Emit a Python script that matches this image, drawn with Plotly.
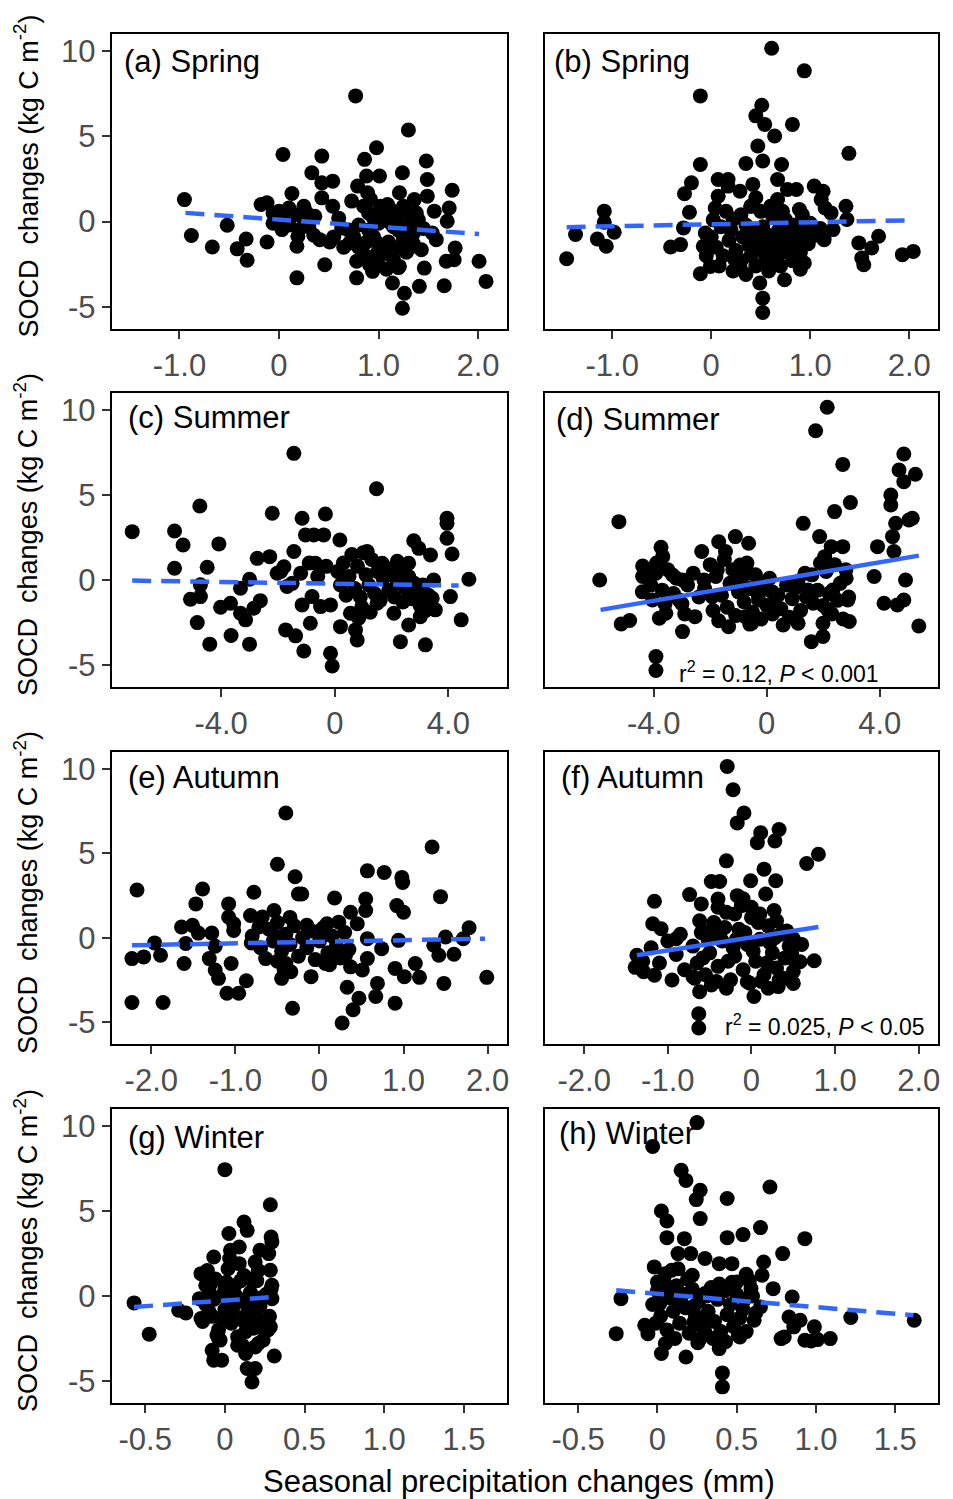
import plotly.graph_objects as go

W, H = 953, 1499

# ---------------- data ----------------
# panel (a) Spring, left column
pts_a = [(-0.95,1.29),(-0.88,-0.82),(-0.67,-1.49),(-0.52,-0.22),(-0.42,-1.6),(-0.33,-1.02),(-0.32,-2.27),
 (-0.18,1.0),(-0.12,1.1),(-0.12,-1.2),(0.04,3.94),(0.13,1.65),(-0.06,0.5),(-0.06,-0.1),(0.03,-0.47),
 (0.18,-3.3),(0.18,-1.45),(0.19,-0.86),(0.25,0.9),(0.33,2.86),(0.36,0.31),(0.41,-1.06),(0.43,3.84),
 (0.43,2.27),(0.43,1.39),(0.46,-2.53),(0.51,-1.2),(0.54,2.37),(0.54,0.9),(0.63,-0.37),(0.71,-1.25),
 (0.73,1.2),(0.77,7.37),(0.78,-3.3),(0.78,-2.33),(0.79,2.08),(0.86,3.65),(0.88,2.67),(0.89,1.69),
 (0.91,-2.53),(0.94,-2.92),(0.98,4.33),(1.01,2.67),(1.09,1.0),(1.14,-3.6),(1.21,-2.63),(1.21,1.69),
 (1.24,2.86),(1.24,-5.08),(1.26,-4.2),(1.30,5.37),(1.34,-1.45),(1.36,1.29),(1.38,0.5),(1.41,-3.8),
 (1.43,-1.65),(1.46,-2.73),(1.48,3.55),(1.49,2.47),(1.49,1.49),(1.54,-0.67),(1.56,0.61),(1.58,-1.06),
 (1.66,-3.76),(1.68,-2.33),(1.69,0.02),(1.71,0.8),(1.74,1.84),(1.76,-2.24),(1.77,-1.55),(2.01,-2.33),
 (2.08,-3.51),
 (0.85,0.9),(0.9,0.5),(0.95,0.2),(1.0,-0.1),(1.05,0.4),(1.1,0.0),(1.15,-0.3),(0.9,-0.5),(0.95,-0.9),
 (1.0,-1.3),(1.05,-1.6),(1.1,-1.9),(1.15,-2.2),(1.2,-1.5),(1.25,-1.0),(1.2,-0.5),(1.3,-0.2),(1.3,0.5),
 (1.25,0.9),(1.35,-0.7),(1.35,-1.3),(0.8,-0.2),(0.75,-0.9),(0.8,-1.5),(0.85,-1.9),(1.0,-2.5),(1.08,-2.8),
 (0.92,1.3),(1.02,0.9),(1.12,0.7),(1.18,0.2),(0.98,-1.9),(1.1,-1.2),(1.2,-2.7),(0.88,-1.2),(1.28,-1.8),
 (1.4,0.1),(1.45,-0.4),(0.7,-0.5),(0.6,0.2),(0.55,-0.9),(0.65,-1.5),
 (0.0,0.6),(0.05,0.2),(0.1,-0.2),(0.15,0.4),(0.2,-0.5),(0.25,0.1),(0.3,-0.3),(0.35,-0.8),(0.1,0.8),(0.28,0.5)]
fit_a_x = [-0.94, 2.01]
fit_a_y = [0.51, -0.73]

# panel (b) Spring, right column
pts_b = [(-1.46,-2.18),(-1.37,-0.76),(-1.15,-1.02),(-1.08,0.61),(-1.08,-0.04),(-1.06,-1.45),(-0.98,-0.63),
 (-0.41,-1.49),(-0.31,-1.35),(-0.28,-0.37),(-0.27,1.63),(-0.22,0.55),(-0.20,2.27),(-0.11,7.37),(-0.11,3.35),
 (-0.11,-3.06),(-0.08,-1.45),(-0.06,-0.67),(-0.01,-2.63),(0.04,0.8),(0.07,2.47),(0.07,1.49),(0.17,2.47),
 (0.17,2.08),(0.22,0.12),(0.24,-2.24),(0.29,-2.63),(0.29,1.78),(0.35,3.41),(0.40,0.9),(0.42,2.18),
 (0.47,4.43),(0.51,6.82),(0.45,6.2),(0.49,-3.6),(0.52,-4.49),(0.52,-5.33),(0.54,5.7),(0.52,3.55),
 (0.61,10.16),(0.64,5.02),(0.67,2.47),(0.71,3.35),(0.67,1.29),(0.65,-2.53),(0.74,-3.41),(0.77,1.88),
 (0.82,5.7),(0.86,1.88),(0.89,0.71),(0.94,8.84),(0.94,-2.43),(1.04,2.08),(1.11,1.29),(1.13,1.78),
 (1.21,0.51),(1.23,-0.47),(1.14,-1.06),(1.36,0.9),(1.39,4.0),(1.37,0.12),(1.49,-1.25),(1.52,-2.14),
 (1.54,-2.53),(1.62,-1.55),(1.69,-0.86),(1.93,-1.94),(2.04,-1.75),
 (0.0,-0.9),(0.05,-1.5),(0.1,-0.3),(0.12,-2.0),(0.18,-1.1),(0.2,-0.5),(0.25,-1.7),(0.3,-2.3),(0.32,-0.9),
 (0.35,-0.2),(0.38,-1.4),(0.4,-2.0),(0.42,-0.6),(0.45,-2.6),(0.48,-1.1),(0.5,-1.7),(0.52,-0.3),(0.55,-2.2),
 (0.58,-0.8),(0.6,-1.4),(0.62,0.3),(0.65,-2.0),(0.68,-0.5),(0.7,-1.1),(0.72,-1.8),(0.75,0.1),(0.78,-0.7),
 (0.8,-1.5),(0.82,-2.3),(0.85,-0.2),(0.88,-1.0),(0.9,-1.8),(0.92,0.4),(0.95,-0.6),(0.98,-1.3),(1.0,-0.1),
 (1.05,-0.8),(1.1,-0.4),(1.15,0.8),(0.6,0.9),(0.5,0.6),(0.4,0.9),(0.3,0.4),(0.15,0.6),(0.08,-2.6),
 (0.22,-2.9),(0.7,-2.6),(0.58,-2.9),(0.45,1.4),(0.72,0.6),(0.35,-3.1),(0.9,-2.8),(0.02,0.1),(-0.05,-2.0)]
fit_b_x = [-1.46, 2.04]
fit_b_y = [-0.33, 0.08]

# panel (c) Summer, left column
pts_c = [(-7.13,2.84),(-5.64,2.88),(-5.34,2.06),(-5.64,0.69),(-4.75,4.35),(-4.49,0.75),(-5.08,-1.14),
 (-4.73,-0.98),(-4.73,-0.29),(-4.84,-2.51),(-4.40,-3.78),(-4.08,2.12),(-4.02,-1.61),(-3.67,-1.37),
 (-3.65,-3.27),(-3.32,-1.96),(-3.14,-2.35),(-3.32,-0.49),(-3.0,0.04),(-3.0,-3.78),(-2.85,-1.67),
 (-2.62,-1.22),(-2.73,1.27),(-2.29,1.37),(-2.20,3.92),(-2.03,0.39),(-1.79,0.78),(-1.73,-2.94),
 (-1.68,-0.39),(-1.44,7.45),(-1.44,1.67),(-1.38,-3.29),(-1.15,3.63),(-1.15,-1.47),(-1.09,-4.18),
 (-1.03,2.65),(-0.86,-2.55),(-0.80,-0.98),(-0.74,2.65),(-0.68,0.98),(-0.50,-1.57),(-0.39,2.65),
 (-0.33,3.88),(-0.15,-1.47),(-0.15,-4.31),(-0.09,-5.06),(0.18,2.35),(0.20,-2.75),(0.55,-1.96),
 (0.73,-2.94),(0.79,-3.53),(0.84,-2.25),(1.14,1.67),(1.47,5.37),(1.49,-1.37),(1.67,0.98),(2.08,-1.96),
 (2.20,0.59),(2.31,-3.63),(2.60,0.98),(2.78,2.31),(2.96,1.86),(2.60,-2.65),(3.01,-2.16),(3.19,-3.82),
 (3.37,1.47),(3.48,0.0),(3.43,-1.08),(3.54,-1.76),(3.95,3.63),(3.95,3.33),(3.95,2.45),(4.13,1.53),
 (4.07,-0.98),(4.45,-2.35),(4.72,0.04),
 (0.1,0.5),(0.3,1.0),(0.5,0.2),(0.6,1.5),(0.7,-0.5),(0.8,0.8),(0.9,-1.0),(1.0,1.6),(1.1,0.3),(1.2,-0.3),
 (1.3,1.2),(1.4,-0.8),(1.5,0.5),(1.6,-1.2),(1.7,0.1),(1.8,0.7),(1.9,-0.6),(2.0,0.3),(2.1,-1.0),(2.2,-0.2),
 (2.3,0.6),(2.4,-1.3),(2.5,-0.5),(2.6,0.2),(2.7,-1.1),(2.8,-0.2),(2.9,-0.8),(3.0,-1.5),(3.1,-0.3),
 (3.2,-1.8),(3.3,-0.9),(0.4,-0.9),(0.2,-0.3),(-0.3,0.8),(-0.6,0.2),(-0.9,1.0),(-1.2,0.4),(-1.5,-0.2),
 (-1.9,0.5),(0.95,-1.6),(1.25,-1.9),(2.2,1.1)]
fit_c_x = [-7.13, 4.36]
fit_c_y = [-0.04, -0.33]

# panel (d) Summer, right column
pts_d = [(-5.91,0.0),(-5.23,3.43),(-5.15,-2.59),(-4.85,-2.39),(-4.39,0.82),(-4.39,0.2),(-3.74,1.92),
 (-3.68,1.37),(-3.92,0.39),(-4.04,-1.18),(-3.80,-2.25),(-3.57,-1.96),(-3.92,-4.51),(-3.92,-5.33),
 (-3.33,0.29),(-2.98,0.0),(-3.10,-1.18),(-2.98,-3.04),(-2.54,-2.16),(-2.30,1.67),(-2.22,0.0),(-1.93,-0.98),
 (-1.70,2.25),(-1.75,0.59),(-1.46,1.67),(-1.35,-2.75),(-1.11,2.55),(-0.94,0.88),(-0.64,2.16),(-0.64,0.39),
 (-0.76,-2.16),(-0.53,-2.55),(-0.29,-1.18),(0.18,-0.69),(0.29,-1.37),(0.58,-2.65),(0.99,-0.49),(1.11,-2.55),
 (1.29,3.33),(1.35,0.39),(1.46,-0.59),(1.58,-3.63),(1.64,-1.37),(1.73,8.78),(1.87,2.55),(1.99,-3.33),
 (1.99,-2.55),(2.05,1.37),(2.14,10.16),(2.16,-1.76),(2.28,1.96),(2.34,-0.59),(2.40,4.02),(2.69,6.8),
 (2.69,1.96),(2.81,0.1),(2.87,-1.18),(2.96,4.55),(2.92,-2.45),(3.80,0.2),(3.92,1.96),(4.15,-1.37),
 (4.39,5.0),(4.39,4.41),(4.45,2.55),(4.50,1.67),(4.56,3.33),(4.62,-1.47),(4.68,6.47),(4.85,7.41),
 (4.85,5.78),(4.85,-1.18),(4.91,0.0),(5.03,3.53),(5.15,3.63),(5.26,6.22),(5.38,-2.71),
 (-4.3,0.5),(-4.1,-0.3),(-3.9,1.0),(-3.7,-0.6),(-3.5,0.6),(-3.3,-0.8),(-3.2,0.1),(-3.0,-1.4),(-2.8,-0.3),
 (-2.6,0.4),(-2.4,-1.0),(-2.2,-0.5),(-2.0,0.9),(-1.9,-1.8),(-1.8,0.2),(-1.6,-0.9),(-1.5,1.2),(-1.4,-1.6),
 (-1.3,-0.2),(-1.2,0.6),(-1.1,-2.1),(-1.0,-0.7),(-0.9,0.1),(-0.8,-1.3),(-0.7,1.0),(-0.6,-0.5),(-0.5,-1.9),
 (-0.4,0.3),(-0.3,-0.9),(-0.2,-2.3),(-0.1,-0.3),(0.0,-1.5),(0.1,0.1),(0.2,-2.0),(0.4,-0.9),(0.5,-1.7),
 (0.7,-0.3),(0.8,-2.2),(0.9,-1.1),(1.1,-0.1),(1.2,-1.8),(1.4,-1.0),(1.6,0.3),(1.8,-0.6),(1.9,1.0),
 (2.0,-1.5),(2.1,0.5),(2.2,-0.8),(2.3,-2.0),(2.4,0.9),(2.5,-1.2),(2.6,-0.2),(2.7,-2.3),(2.8,0.6),
 (2.9,-1.0),(-2.9,-2.0),(-1.7,-2.4),(-0.6,-2.6),(-3.6,-1.4),(-4.4,-0.7)]
fit_d_x = [-5.88, 5.38]
fit_d_y = [-1.76, 1.43]

# panel (e) Autumn, left column
pts_e = [(-2.23,-1.24),(-2.23,-3.84),(-2.17,2.82),(-2.09,-1.14),(-1.96,-0.31),(-1.89,-1.04),(-1.86,-3.84),
 (-1.64,0.63),(-1.61,-1.53),(-1.59,-0.35),(-1.51,0.73),(-1.47,2.0),(-1.44,0.27),(-1.39,2.88),(-1.31,-1.24),
 (-1.28,0.27),(-1.24,-0.51),(-1.24,-1.92),(-1.20,-2.41),(-1.10,-3.29),(-1.08,2.0),(-1.08,1.22),
 (-1.05,-1.53),(-1.02,0.43),(-1.02,0.82),(-0.96,-3.29),(-0.87,-2.55),(-0.82,1.31),(-0.81,-0.31),
 (-0.78,2.69),(-0.72,0.63),(-0.68,1.22),(-0.64,-1.24),(-0.54,1.61),(-0.50,4.35),(-0.48,0.04),
 (-0.45,-2.41),(-0.40,7.39),(-0.40,-1.53),(-0.34,-2.02),(-0.32,-4.18),(-0.29,3.61),(-0.25,2.59),
 (-0.21,2.59),(-0.15,0.73),(-0.10,-2.31),(0.01,0.43),(0.09,0.82),(0.07,-1.53),(0.18,2.35),(0.23,0.92),
 (0.27,-5.06),(0.31,-1.04),(0.33,-2.94),(0.37,-1.73),(0.37,1.51),(0.40,-4.27),(0.45,0.82),(0.47,-3.59),
 (0.51,-1.92),(0.55,2.29),(0.55,1.61),(0.57,3.96),(0.57,-1.24),(0.57,-0.06),(0.67,-3.49),(0.69,-2.71),
 (0.74,-0.65),(0.77,3.86),(0.90,-3.88),(0.90,-1.82),(0.92,1.90),(0.94,-0.16),(0.98,3.57),(0.99,3.27),
 (1.00,1.51),(1.01,-2.31),(1.14,-1.53),(1.19,-2.35),(1.34,5.37),(1.36,-0.45),(1.42,-1.04),(1.44,2.43),
 (1.48,-2.71),(1.50,0.04),(1.60,-0.98),(1.71,-0.06),(1.78,0.59),(1.99,-2.35),
 (-0.6,0.5),(-0.55,-0.2),(-0.5,0.9),(-0.45,-0.8),(-0.4,0.2),(-0.35,-0.4),(-0.3,0.7),(-0.25,-1.1),
 (-0.2,0.0),(-0.15,-0.6),(-0.1,0.4),(-0.05,-1.3),(0.0,-0.2),(0.05,0.6),(0.1,-0.9),(0.15,0.1),(0.2,-0.5),
 (0.25,-1.2),(0.3,0.3),(-0.7,-0.6),(-0.8,0.1),(-0.5,-1.4),(-0.35,1.2),(0.12,-1.6),(-0.42,-1.9),(0.35,-0.7)]
fit_e_x = [-2.23, 1.97]
fit_e_y = [-0.45, -0.06]

# panel (f) Autumn, right column
pts_f = [(-1.37,-1.04),(-1.39,-1.76),(-1.29,-2.02),(-1.18,0.82),(-1.16,2.16),(-1.08,0.53),(-1.16,-2.22),
 (-0.95,-2.51),(-0.90,-0.06),(-0.74,2.55),(-0.70,-2.31),(-0.62,-3.2),(-0.63,-4.51),(-0.63,-5.35),
 (-0.60,2.0),(-0.48,3.33),(-0.49,0.43),(-0.38,3.33),(-0.40,2.29),(-0.30,4.55),(-0.29,10.14),(-0.22,8.76),
 (-0.17,6.8),(-0.09,7.39),(-0.17,2.49),(-0.05,-2.61),(-0.01,3.37),(0.03,-3.49),(0.07,5.63),(0.11,6.22),
 (0.15,4.06),(0.17,2.59),(0.29,3.37),(0.28,5.73),(0.33,6.41),(0.27,1.61),(0.33,-2.51),(0.50,-2.71),
 (0.50,-0.06),(0.58,-1.43),(0.66,4.39),(0.80,4.94),(0.75,-1.37),
 (-0.7,-0.5),(-0.65,-1.5),(-0.6,0.3),(-0.55,-2.2),(-0.5,-0.9),(-0.45,0.9),(-0.4,-1.7),(-0.35,-0.2),
 (-0.3,1.5),(-0.25,-2.5),(-0.2,-1.1),(-0.15,0.5),(-0.1,-1.9),(-0.05,-0.4),(0.0,1.2),(0.05,-1.4),(0.1,-0.1),
 (0.15,-2.2),(0.2,0.7),(0.25,-0.9),(0.3,-1.8),(0.35,0.2),(0.4,-1.2),(0.45,-0.5),(0.5,-2.0),(-0.68,-2.4),
 (-0.62,1.0),(-0.52,-0.1),(-0.42,-2.6),(-0.32,0.6),(-0.22,-0.6),(-0.12,1.9),(-0.02,-2.7),(0.08,0.9),
 (0.18,-1.5),(0.28,0.0),(0.38,-2.4),(0.48,-0.9),(-0.58,-1.2),(-0.48,-2.8),(-0.38,0.1),(-0.28,-1.4),
 (-0.18,-0.1),(-0.08,0.3),(0.02,-0.8),(0.12,-2.6),(0.22,-0.3),(0.32,-2.9),(0.42,0.4),(0.52,-1.4),
 (-0.9,-1.0),(-1.0,-0.2),(-1.1,-1.5),(-1.2,-0.6),(-1.3,-1.4),(-0.8,-1.9),(-0.85,0.2),(-0.1,2.3),(0.0,1.8),
 (-0.2,1.4),(0.1,1.4),(0.3,1.0),(-0.4,1.8),(0.2,-3.0),(-0.3,-3.0),(0.6,-0.4)]
fit_f_x = [-1.37, 0.80]
fit_f_y = [-1.04, 0.63]

# panel (g) Winter, left column
pts_g = [(-0.57,-0.41),(-0.475,-2.25),(-0.29,-0.84),(-0.245,-1.0),(-0.15,-1.33),(-0.15,1.31),(-0.16,-0.16),
 (-0.12,0.63),(-0.07,2.29),(-0.08,-3.2),(-0.07,-3.78),(-0.02,-3.78),(-0.04,-2.51),(0.0,7.43),(0.025,3.67),
 (0.035,2.69),(0.09,2.88),(0.12,4.35),(0.14,3.86),(0.08,-2.9),(0.13,-3.39),(0.14,-4.27),(0.17,-5.06),
 (0.19,-4.27),(0.19,2.0),(0.21,-2.8),(0.22,2.69),(0.25,-2.02),(0.275,2.49),(0.285,5.37),(0.285,-1.82),
 (0.29,3.47),(0.295,3.18),(0.285,1.51),(0.295,0.63),(0.295,-0.16),(0.31,-3.53),
 (-0.12,-0.5),(-0.1,0.3),(-0.08,-1.2),(-0.06,1.0),(-0.04,-2.0),(-0.02,0.0),(0.0,-0.8),(0.02,1.6),
 (0.04,-1.6),(0.06,0.6),(0.08,-2.4),(0.1,-0.3),(0.12,1.2),(0.14,-1.0),(0.16,0.2),(0.18,-1.9),(0.2,0.9),
 (0.22,-0.6),(0.24,-2.6),(0.26,0.1),(0.28,-1.2),(-0.14,-1.5),(-0.11,1.5),(-0.07,-0.2),(-0.03,-2.6),
 (0.01,0.8),(0.05,-1.0),(0.09,1.9),(0.13,-2.1),(0.17,-0.2),(0.21,1.5),(0.25,-1.7),(0.29,0.4),(-0.09,0.7),
 (-0.01,-1.4),(0.07,0.0),(0.15,-0.7),(0.23,-0.1),(0.11,-2.9),(0.03,2.2),(-0.05,-2.3),(0.19,-3.0),
 (0.27,-2.0),(0.0,0.4),(0.1,0.9),(0.2,-1.3),(-0.1,-0.9),(0.06,-0.5),(0.16,1.0),(0.12,-1.5)]
fit_g_x = [-0.57, 0.31]
fit_g_y = [-0.65, -0.06]

# panel (h) Winter, right column
pts_h = [(-0.26,-2.22),(-0.23,-0.16),(-0.08,-1.73),(-0.06,-2.22),(-0.03,8.8),(-0.02,1.71),(0.0,0.82),
 (0.015,-0.45),(0.025,5.0),(0.025,-3.39),(0.06,4.41),(0.06,3.43),(0.05,-2.8),(0.09,1.51),(0.13,2.49),
 (0.15,7.39),(0.17,3.37),(0.18,6.8),(0.18,-3.59),(0.21,2.49),(0.22,1.22),(0.23,-1.53),(0.245,5.67),
 (0.25,10.2),(0.255,-2.75),(0.27,6.22),(0.27,4.55),(0.30,2.2),(0.30,-2.12),(0.30,0.14),(0.39,1.9),
 (0.39,-3.1),(0.41,-4.53),(0.41,-5.35),(0.44,5.73),(0.44,3.43),(0.47,1.9),(0.50,0.82),(0.52,-2.41),
 (0.54,3.61),(0.56,1.27),(0.59,0.43),(0.61,-1.43),(0.65,4.02),(0.66,1.22),(0.67,2.0),(0.65,-0.65),
 (0.71,6.41),(0.73,0.43),(0.79,2.49),(0.78,-2.51),(0.80,-2.41),(0.83,-1.24),(0.85,-0.06),(0.86,-1.82),
 (0.90,-1.43),(0.93,3.37),(0.93,-2.61),(0.97,-2.65),(0.99,-1.82),(1.01,-2.57),(1.09,-2.51),(1.22,-1.27),
 (1.62,-1.43),
 (-0.03,-0.5),(0.0,0.3),(0.02,-1.2),(0.04,1.0),(0.06,-2.0),(0.08,-0.1),(0.1,-0.9),(0.12,0.6),(0.14,-1.6),
 (0.16,0.1),(0.18,-0.7),(0.2,-2.2),(0.22,0.4),(0.24,-1.2),(0.26,-0.3),(0.28,-1.8),(0.32,-0.9),(0.34,0.5),
 (0.36,-1.5),(0.38,-0.2),(0.4,-2.1),(0.42,0.3),(0.44,-1.1),(0.46,-0.5),(0.48,-1.8),(0.5,0.1),(0.52,-1.3),
 (0.54,-0.8),(0.56,-2.1),(-0.01,-1.6),(0.03,-0.1),(0.07,0.5),(0.11,-2.5),(0.15,-0.4),(0.19,1.0),
 (0.23,-0.6),(0.27,-2.5),(0.31,0.0),(0.35,-2.5),(0.39,0.7),(0.43,-2.7),(0.47,0.8),(0.51,-2.3),(0.55,-0.2),
 (0.6,0.0),(0.62,-1.0),(0.58,0.9),(0.05,1.3),(0.13,1.6),(0.3,-1.2)]
fit_h_x = [-0.26, 1.615]
fit_h_y = [0.33, -1.14]

panel_labels = ["(a) Spring", "(b) Spring", "(c) Summer", "(d) Summer",
                "(e) Autumn", "(f) Autumn", "(g) Winter", "(h) Winter"]
row_xticks = [[-1, 0, 1, 2], [-4, 0, 4], [-2, -1, 0, 1, 2], [-0.5, 0, 0.5, 1, 1.5]]
row_xticklabels = [["-1.0", "0", "1.0", "2.0"], ["-4.0", "0", "4.0"],
                   ["-2.0", "-1.0", "0", "1.0", "2.0"], ["-0.5", "0", "0.5", "1.0", "1.5"]]
y_ticks = [-5, 0, 5, 10]
y_ticklabels = ["-5", "0", "5", "10"]
stats_d = "r<sup>2</sup> = 0.12, <i>P</i> &lt; 0.001"
stats_f = "r<sup>2</sup> = 0.025, <i>P</i> &lt; 0.05"
y_title = "SOCD\u00a0 changes (kg C m<sup>-2</sup>)"
x_title = "Seasonal precipitation changes (mm)"

# ---------------- layout geometry ----------------
row_xrange = [[-1.68, 2.29], [-7.85, 6.06], [-2.47, 2.23], [-0.71, 1.77]]
y_range = [-6.3, 11.0]
col_px = [(112, 508), (546, 940)]
row_px = [(34, 329), (393, 687), (752, 1044), (1109, 1403)]

def px(x):
    return x / W

def py(y):
    return 1 - y / H

all_pts = [pts_a, pts_b, pts_c, pts_d, pts_e, pts_f, pts_g, pts_h]
all_fx = [fit_a_x, fit_b_x, fit_c_x, fit_d_x, fit_e_x, fit_f_x, fit_g_x, fit_h_x]
all_fy = [fit_a_y, fit_b_y, fit_c_y, fit_d_y, fit_e_y, fit_f_y, fit_g_y, fit_h_y]
significant = [False, False, False, True, False, True, False, False]
label_px = [(122, 62), (553, 62), (126, 418), (555, 420), (126, 777), (560, 777), (126, 1137), (558, 1133)]

FONT = "Liberation Sans, Arial, Helvetica, sans-serif"
BLUE = "#3366FF"
TICKFONT = dict(family=FONT, size=31, color="#4D4D4D")

fig = go.Figure()
layout = dict(width=W, height=H, margin=dict(l=0, r=0, t=0, b=0),
              paper_bgcolor="white", plot_bgcolor="white", showlegend=False,
              font=dict(family=FONT, size=28, color="black"))
annotations = []

for i in range(8):
    r, c = divmod(i, 2)
    n = i + 1
    xs = [p[0] for p in all_pts[i]]
    ys = [p[1] for p in all_pts[i]]
    xa = "x" if n == 1 else f"x{n}"
    ya = "y" if n == 1 else f"y{n}"
    fig.add_trace(go.Scatter(x=xs, y=ys, mode="markers", xaxis=xa, yaxis=ya,
                             marker=dict(size=15, color="black", line=dict(width=0)),
                             hoverinfo="skip"))
    fig.add_trace(go.Scatter(x=all_fx[i], y=all_fy[i], mode="lines", xaxis=xa, yaxis=ya,
                             line=dict(color=BLUE, width=4.5,
                                       dash="solid" if significant[i] else "19px,10px"),
                             hoverinfo="skip"))
    x0, x1 = col_px[c]
    y0, y1 = row_px[r]
    xkey = "xaxis" if n == 1 else f"xaxis{n}"
    ykey = "yaxis" if n == 1 else f"yaxis{n}"
    layout[xkey] = dict(domain=[px(x0), px(x1)], range=row_xrange[r], anchor=ya,
                        showgrid=False, zeroline=False, showline=True, mirror=True,
                        linecolor="black", linewidth=2.2,
                        ticks="outside", ticklen=8, tickwidth=2, tickcolor="#333333",
                        tickmode="array", tickvals=row_xticks[r], ticktext=row_xticklabels[r],
                        tickfont=TICKFONT)
    yax = dict(domain=[py(y1), py(y0)], range=y_range, anchor=xa,
               showgrid=False, zeroline=False, showline=True, mirror=True,
               linecolor="black", linewidth=2.2)
    if c == 0:
        yax.update(ticks="outside", ticklen=8, tickwidth=2, tickcolor="#333333",
                   tickmode="array", tickvals=y_ticks, ticktext=y_ticklabels,
                   tickfont=TICKFONT)
    else:
        yax.update(showticklabels=False, ticks="")
    layout[ykey] = yax
    lx, ly = label_px[i]
    annotations.append(dict(text=panel_labels[i], x=px(lx), y=py(ly), xref="paper", yref="paper",
                            xanchor="left", yanchor="middle", showarrow=False,
                            font=dict(family=FONT, size=31, color="black")))

for r in range(4):
    y0, y1 = row_px[r]
    annotations.append(dict(text=y_title,
                            x=px(26), y=py((y0 + y1) / 2 - 6), xref="paper", yref="paper",
                            xanchor="center", yanchor="middle", textangle=-90, showarrow=False,
                            font=dict(family=FONT, size=27, color="black")))

annotations.append(dict(text=stats_d, x=px(883), y=py(672), xref="paper", yref="paper",
                        xanchor="right", yanchor="middle", showarrow=False,
                        font=dict(family=FONT, size=23, color="black")))
annotations.append(dict(text=stats_f, x=px(929), y=py(1025), xref="paper", yref="paper",
                        xanchor="right", yanchor="middle", showarrow=False,
                        font=dict(family=FONT, size=23, color="black")))
annotations.append(dict(text=x_title, x=px(520), y=py(1481),
                        xref="paper", yref="paper", xanchor="center", yanchor="middle",
                        showarrow=False, font=dict(family=FONT, size=31, color="black")))

layout["annotations"] = annotations
fig.update_layout(**layout)
fig.write_html("out.html", config={"displayModeBar": False},
               post_script="document.body.style.margin='0px';document.body.style.overflow='hidden';")
